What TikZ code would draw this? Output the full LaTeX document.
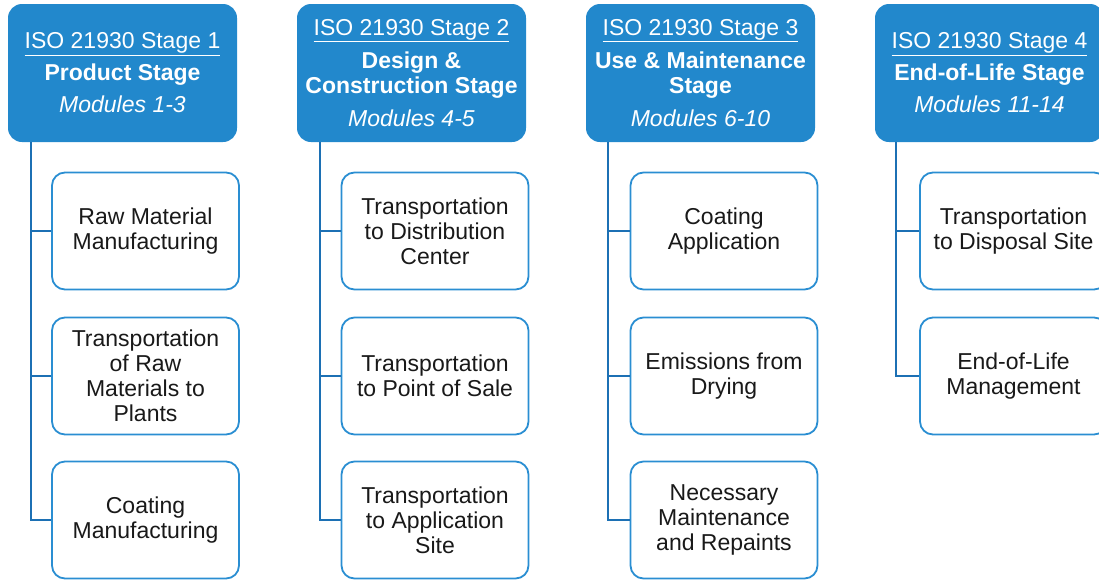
\documentclass[tikz,border=0pt]{standalone}
\usepackage{fontspec}
\setmainfont{Liberation Sans}
\definecolor{hdrblue}{RGB}{34,136,204}
\definecolor{boxblue}{RGB}{42,142,210}
\definecolor{spineblue}{RGB}{28,112,180}
\definecolor{txt}{RGB}{25,25,25}
\begin{document}
\begin{tikzpicture}[x=1pt,y=-1pt,
  header/.style={rectangle, rounded corners=14pt, fill=hdrblue, draw=none,
    minimum width=229pt, minimum height=138pt, inner sep=2pt,
    text=white, align=center, font=\fontsize{23}{25}\selectfont},
  child/.style={rectangle, rounded corners=13pt, fill=white, draw=boxblue, line width=1.8pt,
    minimum width=187pt, minimum height=117pt, inner sep=2pt,
    text=txt, align=center, font=\fontsize{23}{25}\selectfont},
  spine/.style={draw=spineblue, line width=2.4pt}]
\useasboundingbox (0,0) rectangle (1099,579);
% headers
\node[header] (h1) at (122.5,73) {\underline{ISO 21930 Stage 1}\\[7pt]\textbf{Product Stage}\\[7pt]\textit{Modules 1-3}};
\node[header] (h2) at (411.5,73) {\underline{ISO 21930 Stage 2}\\[8pt]\textbf{Design \&}\\\textbf{Construction Stage}\\[8pt]\textit{Modules 4-5}};
\node[header] (h3) at (700.5,73) {\underline{ISO 21930 Stage 3}\\[8pt]\textbf{Use \& Maintenance}\\\textbf{Stage}\\[8pt]\textit{Modules 6-10}};
\node[header] (h4) at (989.5,73) {\underline{ISO 21930 Stage 4}\\[7pt]\textbf{End-of-Life Stage}\\[7pt]\textit{Modules 11-14}};
% column 1
\node[child] (c11) at (145.5,231) {Raw Material\\Manufacturing};
\node[child] (c12) at (145.5,376) {Transportation\\of Raw\\Materials to\\Plants};
\node[child] (c13) at (145.5,520) {Coating\\Manufacturing};
% column 2
\node[child] (c21) at (435,231) {Transportation\\to Distribution\\Center};
\node[child] (c22) at (435,376) {Transportation\\to Point of Sale};
\node[child] (c23) at (435,520) {Transportation\\to Application\\Site};
% column 3
\node[child] (c31) at (724,231) {Coating\\Application};
\node[child] (c32) at (724,376) {Emissions from\\Drying};
\node[child] (c33) at (724,520) {Necessary\\Maintenance\\and Repaints};
% column 4
\node[child] (c41) at (1013.5,231) {Transportation\\to Disposal Site};
\node[child] (c42) at (1013.5,376) {End-of-Life\\Management};
% connectors
\foreach \h/\s/\a/\b/\c in {h1/23/c11/c12/c13, h2/23/c21/c22/c23, h3/22/c31/c32/c33}{
  \draw[spine] ([xshift=\s pt]\h.south west) |- (\a.west);
  \draw[spine] ([xshift=\s pt]\h.south west) |- (\b.west);
  \draw[spine] ([xshift=\s pt]\h.south west) |- (\c.west);
}
\draw[spine] ([xshift=21pt]h4.south west) |- (c41.west);
\draw[spine] ([xshift=21pt]h4.south west) |- (c42.west);
\end{tikzpicture}
\end{document}
